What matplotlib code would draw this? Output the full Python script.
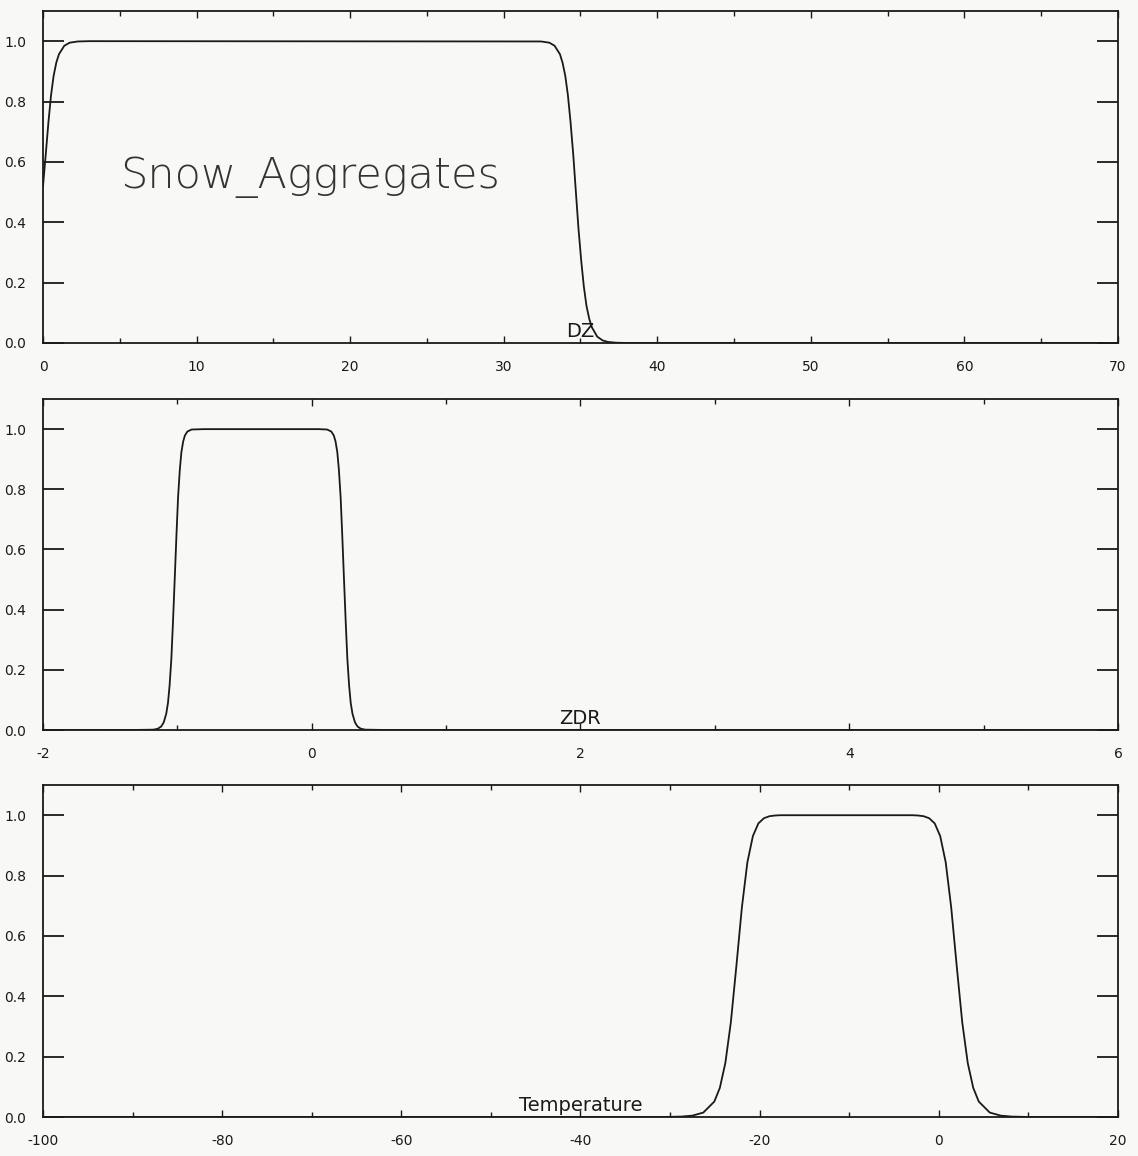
import matplotlib
matplotlib.use("Agg")
import matplotlib.pyplot as plt
from matplotlib.ticker import MultipleLocator, FormatStrFormatter

plt.rcParams['font.family'] = ['DejaVu Sans']
plt.rcParams['axes.unicode_minus'] = False

# Membership curve for reflectivity (DZ)
dz_x = [0.0, 0.17, 0.35, 0.52, 0.69, 0.87, 1.04, 1.39, 1.74, 2.26, 3.0,
        32.44, 32.97, 33.31, 33.66, 33.83, 34.01, 34.18, 34.35, 34.53, 34.70,
        34.87, 35.05, 35.22, 35.39, 35.57, 35.74, 36.09, 36.44, 36.78, 37.30,
        38.0, 70.0]
dz_y = [0.52, 0.62, 0.73, 0.82, 0.885, 0.93, 0.957, 0.985, 0.995, 0.999, 1.0,
        0.999, 0.995, 0.985, 0.957, 0.929, 0.885, 0.821, 0.733, 0.623, 0.50,
        0.378, 0.271, 0.186, 0.123, 0.080, 0.052, 0.021, 0.0085, 0.0035, 0.001,
        0.0, 0.0]

# Membership curve for differential reflectivity (ZDR)
zdr_x = [-2.0, -1.30, -1.178, -1.146, -1.121, -1.102, -1.083, -1.070, -1.058,
         -1.045, -1.033, -1.020, -1.007, -0.995, -0.982, -0.970, -0.957, -0.944,
         -0.9255, -0.894, -0.80, 0.05, 0.114, 0.1455, 0.164, 0.177, 0.190, 0.202,
         0.215, 0.227, 0.240, 0.253, 0.265, 0.278, 0.290, 0.303, 0.322, 0.341,
         0.366, 0.398, 0.52, 6.0]
zdr_y = [0.0, 0.0003, 0.0012, 0.0042, 0.0115, 0.025, 0.054, 0.090, 0.148,
         0.236, 0.356, 0.50, 0.647, 0.773, 0.865, 0.924, 0.959, 0.979,
         0.992, 0.9988, 1.0, 1.0, 0.9988, 0.992, 0.979, 0.959, 0.924, 0.865,
         0.773, 0.647, 0.50, 0.356, 0.236, 0.148, 0.090, 0.054, 0.025, 0.0115,
         0.0042, 0.0012, 0.0003, 0.0]

# Membership curve for temperature
t_x = [-100.0, -34.0, -30.6, -28.75, -27.52, -26.29, -25.06, -24.445, -23.83,
       -23.215, -22.6, -21.985, -21.37, -20.755, -20.14, -19.525, -18.91,
       -18.295, -17.68, -16.5, -4.0, -2.92, -2.305, -1.69, -1.075, -0.46, 0.155,
       0.77, 1.385, 2.0, 2.615, 3.23, 3.845, 4.46, 5.69, 6.92, 8.15, 10.0, 13.5,
       20.0]
t_y = [0.0, 0.0001, 0.0003, 0.0015, 0.0046, 0.0148, 0.0513, 0.0965, 0.179,
       0.314, 0.50, 0.694, 0.844, 0.931, 0.973, 0.990, 0.9967,
       0.999, 1.0, 1.0, 1.0, 1.0, 0.999, 0.9967, 0.990, 0.973, 0.931,
       0.844, 0.694, 0.50, 0.314, 0.179, 0.0965, 0.0513, 0.0148, 0.0046, 0.0015,
       0.0003, 0.0001, 0.0]

panels = [
    dict(x=dz_x, y=dz_y, xlim=(0, 70), major=10, minor=5, name="DZ",
         rect=[0.0378, 0.7033, 0.9446, 0.2872]),
    dict(x=zdr_x, y=zdr_y, xlim=(-2, 6), major=2, minor=1, name="ZDR",
         rect=[0.0378, 0.3685, 0.9446, 0.2863]),
    dict(x=t_x, y=t_y, xlim=(-100, 20), major=20, minor=10, name="Temperature",
         rect=[0.0378, 0.0337, 0.9446, 0.2872]),
]

ink = "#1a1a1a"
paper = "#f8f8f7"

fig = plt.figure(figsize=(11.38, 11.56), dpi=100, facecolor=paper)

for p in panels:
    ax = fig.add_axes(p["rect"])
    ax.set_facecolor(paper)
    ax.plot(p["x"], p["y"], color=ink, lw=1.3)
    ax.set_xlim(*p["xlim"])
    ax.set_ylim(0, 1.1)
    ax.xaxis.set_major_locator(MultipleLocator(p["major"]))
    ax.xaxis.set_minor_locator(MultipleLocator(p["minor"]))
    ax.yaxis.set_major_locator(MultipleLocator(0.2))
    ax.yaxis.set_major_formatter(FormatStrFormatter("%.1f"))
    ax.xaxis.set_major_formatter(FormatStrFormatter("%g"))
    for s in ax.spines.values():
        s.set_linewidth(1.3)
        s.set_color(ink)
    ax.tick_params(axis="y", which="major", direction="in", length=15,
                   width=1.3, left=True, right=True, labelsize=10, pad=12,
                   colors=ink)
    ax.tick_params(axis="x", which="major", direction="in", length=5,
                   width=1.0, top=True, bottom=True, labelsize=10, pad=12,
                   colors=ink)
    ax.tick_params(axis="x", which="minor", direction="in", length=3.5,
                   width=1.0, top=True, bottom=True, colors=ink)
    ax.text(0.5, 0.006, p["name"], transform=ax.transAxes, ha="center",
            va="bottom", fontsize=14, color=ink)

fig.axes[0].text(5.0, 0.55, "Snow_Aggregates", ha="left", va="center",
                 fontsize=31, color="#333333", fontweight="light")

fig.savefig("out.png", dpi=100, facecolor=paper)
